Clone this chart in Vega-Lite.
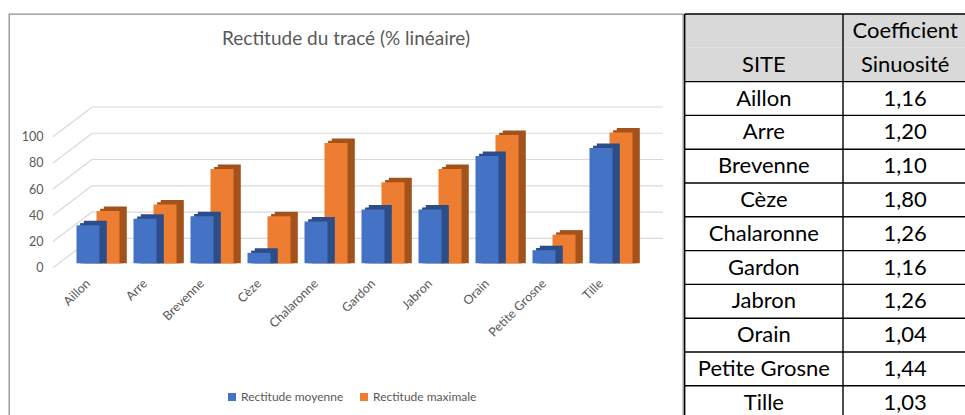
{
  "$schema": "https://vega.github.io/schema/vega-lite/v6.json",
  "autosize": "none",
  "width": 674,
  "height": 402,
  "padding": {"left": 9, "top": 14, "right": 282, "bottom": 0},
  "background": "white",
  "config": {
    "view": {"stroke": "#8c8c8c", "strokeWidth": 1.3},
    "font": "Lato",
    "text": {"font": "Lato"}
  },
  "title": {"text": "Rectitude du tracé (% linéaire)", "frame": "group", "anchor": "middle", "offset": -36, "fontSize": 19, "font": "Lato", "fontWeight": "normal", "color": "#595959"},
  "datasets": {
    "rectitude": [
      {"Site": "Aillon", "Serie": "Rectitude moyenne", "Valeur": 29},
      {"Site": "Arre", "Serie": "Rectitude moyenne", "Valeur": 34},
      {"Site": "Brevenne", "Serie": "Rectitude moyenne", "Valeur": 36},
      {"Site": "Cèze", "Serie": "Rectitude moyenne", "Valeur": 8},
      {"Site": "Chalaronne", "Serie": "Rectitude moyenne", "Valeur": 32},
      {"Site": "Gardon", "Serie": "Rectitude moyenne", "Valeur": 41},
      {"Site": "Jabron", "Serie": "Rectitude moyenne", "Valeur": 41},
      {"Site": "Orain", "Serie": "Rectitude moyenne", "Valeur": 82},
      {"Site": "Petite Grosne", "Serie": "Rectitude moyenne", "Valeur": 10},
      {"Site": "Tille", "Serie": "Rectitude moyenne", "Valeur": 88},
      {"Site": "Aillon", "Serie": "Rectitude maximale", "Valeur": 28},
      {"Site": "Arre", "Serie": "Rectitude maximale", "Valeur": 33},
      {"Site": "Brevenne", "Serie": "Rectitude maximale", "Valeur": 60},
      {"Site": "Cèze", "Serie": "Rectitude maximale", "Valeur": 24},
      {"Site": "Chalaronne", "Serie": "Rectitude maximale", "Valeur": 80},
      {"Site": "Gardon", "Serie": "Rectitude maximale", "Valeur": 50},
      {"Site": "Jabron", "Serie": "Rectitude maximale", "Valeur": 60},
      {"Site": "Orain", "Serie": "Rectitude maximale", "Valeur": 86},
      {"Site": "Petite Grosne", "Serie": "Rectitude maximale", "Valeur": 10},
      {"Site": "Tille", "Serie": "Rectitude maximale", "Valeur": 88}
    ],
    "grille": [{"v": 0}, {"v": 20}, {"v": 40}, {"v": 60}, {"v": 80}, {"v": 100}],
    "tableau": [
      {"Ligne": "h1", "Colonne": "SITE", "Texte": ""},
      {"Ligne": "h1", "Colonne": "Coef", "Texte": "Coefficient"},
      {"Ligne": "h2", "Colonne": "SITE", "Texte": "SITE"},
      {"Ligne": "h2", "Colonne": "Coef", "Texte": "Sinuosité"},
      {"Ligne": "Aillon", "Colonne": "SITE", "Texte": "Aillon"},
      {"Ligne": "Aillon", "Colonne": "Coef", "Texte": "1,16"},
      {"Ligne": "Arre", "Colonne": "SITE", "Texte": "Arre"},
      {"Ligne": "Arre", "Colonne": "Coef", "Texte": "1,20"},
      {"Ligne": "Brevenne", "Colonne": "SITE", "Texte": "Brevenne"},
      {"Ligne": "Brevenne", "Colonne": "Coef", "Texte": "1,10"},
      {"Ligne": "Cèze", "Colonne": "SITE", "Texte": "Cèze"},
      {"Ligne": "Cèze", "Colonne": "Coef", "Texte": "1,80"},
      {"Ligne": "Chalaronne", "Colonne": "SITE", "Texte": "Chalaronne"},
      {"Ligne": "Chalaronne", "Colonne": "Coef", "Texte": "1,26"},
      {"Ligne": "Gardon", "Colonne": "SITE", "Texte": "Gardon"},
      {"Ligne": "Gardon", "Colonne": "Coef", "Texte": "1,16"},
      {"Ligne": "Jabron", "Colonne": "SITE", "Texte": "Jabron"},
      {"Ligne": "Jabron", "Colonne": "Coef", "Texte": "1,26"},
      {"Ligne": "Orain", "Colonne": "SITE", "Texte": "Orain"},
      {"Ligne": "Orain", "Colonne": "Coef", "Texte": "1,04"},
      {"Ligne": "Petite Grosne", "Colonne": "SITE", "Texte": "Petite Grosne"},
      {"Ligne": "Petite Grosne", "Colonne": "Coef", "Texte": "1,44"},
      {"Ligne": "Tille", "Colonne": "SITE", "Texte": "Tille"},
      {"Ligne": "Tille", "Colonne": "Coef", "Texte": "1,03"}
    ]
  },
  "resolve": {
    "scale": {"x": "independent", "y": "independent", "color": "shared"},
    "axis": {"x": "independent", "y": "independent"}
  },
  "layer": [
    {
      "data": {"name": "grille"},
      "mark": {"type": "rule", "color": "#d9d9d9", "strokeWidth": 1.2, "xOffset": 32.5, "x2Offset": 90.5},
      "encoding": {
        "y": {"field": "v", "type": "quantitative", "axis": null, "scale": {"domain": [0, 100], "range": [224.3, 93], "nice": false}},
        "x": {"datum": "Aillon", "type": "nominal", "bandPosition": 0, "axis": null, "scale": {"type": "band", "domain": ["Aillon", "Arre", "Brevenne", "Cèze", "Chalaronne", "Gardon", "Jabron", "Orain", "Petite Grosne", "Tille"], "range": [50.5, 620.5], "paddingInner": 0, "paddingOuter": 0}},
        "x2": {"datum": "Tille", "bandPosition": 0}
      }
    },
    {
      "data": {"name": "grille"},
      "mark": {"type": "rule", "color": "#d9d9d9", "strokeWidth": 1.2, "xOffset": -6.5, "x2Offset": 32.5, "y2Offset": -29.5},
      "encoding": {
        "y": {"field": "v", "type": "quantitative", "scale": {"domain": [0, 100], "range": [253.7, 122.7], "nice": false},
          "axis": {"orient": "left", "offset": -36, "values": [0, 20, 40, 60, 80, 100], "labelPadding": 2, "ticks": false, "tickSize": 0, "domain": false, "grid": false, "title": null, "labelColor": "#595959", "labelFontSize": 12.5, "labelFont": "Lato"}},
        "y2": {"field": "v"},
        "x": {"datum": "Aillon", "type": "nominal", "bandPosition": 0, "axis": null, "scale": {"type": "band", "domain": ["Aillon", "Arre", "Brevenne", "Cèze", "Chalaronne", "Gardon", "Jabron", "Orain", "Petite Grosne", "Tille"], "range": [50.5, 620.5], "paddingInner": 0, "paddingOuter": 0}},
        "x2": {"datum": "Aillon", "bandPosition": 0}
      }
    },
    {
      "data": {"name": "rectitude"},
      "transform": [{"filter": "datum.Serie === 'Rectitude maximale'"}],
      "mark": {"type": "bar", "width": 23, "color": "#a3521c", "xOffset": 23.6, "yOffset": -17.8, "y2Offset": -17.8},
      "encoding": {
        "x": {"field": "Site", "type": "nominal", "axis": null, "scale": {"type": "band", "domain": ["Aillon", "Arre", "Brevenne", "Cèze", "Chalaronne", "Gardon", "Jabron", "Orain", "Petite Grosne", "Tille"], "range": [50.5, 620.5], "paddingInner": 0, "paddingOuter": 0}},
        "y": {"field": "Valeur", "type": "quantitative", "stack": null, "axis": null, "scale": {"domain": [0, 100], "range": [249.3, 118.3], "nice": false}}
      }
    },
    {
      "data": {"name": "rectitude"},
      "transform": [{"filter": "datum.Serie === 'Rectitude maximale'"}],
      "mark": {"type": "bar", "width": 23, "color": "#a3521c", "xOffset": 27.3, "yOffset": -20.1, "y2Offset": -20.1},
      "encoding": {
        "x": {"field": "Site", "type": "nominal", "axis": null, "scale": {"type": "band", "domain": ["Aillon", "Arre", "Brevenne", "Cèze", "Chalaronne", "Gardon", "Jabron", "Orain", "Petite Grosne", "Tille"], "range": [50.5, 620.5], "paddingInner": 0, "paddingOuter": 0}},
        "y": {"field": "Valeur", "type": "quantitative", "stack": null, "axis": null, "scale": {"domain": [0, 100], "range": [249.3, 118.3], "nice": false}}
      }
    },
    {
      "data": {"name": "rectitude"},
      "transform": [{"filter": "datum.Serie === 'Rectitude maximale'"}],
      "mark": {"type": "bar", "width": 23, "xOffset": 20, "yOffset": -15.6, "y2Offset": -15.6},
      "encoding": {
        "x": {"field": "Site", "type": "nominal", "axis": null, "scale": {"type": "band", "domain": ["Aillon", "Arre", "Brevenne", "Cèze", "Chalaronne", "Gardon", "Jabron", "Orain", "Petite Grosne", "Tille"], "range": [50.5, 620.5], "paddingInner": 0, "paddingOuter": 0}},
        "y": {"field": "Valeur", "type": "quantitative", "stack": null, "axis": null, "scale": {"domain": [0, 100], "range": [249.3, 118.3], "nice": false}},
        "color": {"field": "Serie", "type": "nominal", "scale": {"domain": ["Rectitude moyenne", "Rectitude maximale"], "range": ["#4472C4", "#ED7D31"]},
          "legend": {"orient": "none", "legendX": 217, "legendY": 377, "direction": "horizontal", "title": null, "symbolType": "square", "symbolSize": 64, "symbolStrokeWidth": 0, "labelFontSize": 12, "labelColor": "#595959", "labelFont": "Lato", "columnPadding": 14, "labelOffset": 3, "padding": 0}}
      }
    },
    {
      "data": {"name": "rectitude"},
      "transform": [{"filter": "datum.Serie === 'Rectitude moyenne'"}],
      "mark": {"type": "bar", "width": 23, "color": "#2c4d88", "xOffset": 3.6, "yOffset": -2.2, "y2Offset": -2.2},
      "encoding": {
        "x": {"field": "Site", "type": "nominal", "axis": null, "scale": {"type": "band", "domain": ["Aillon", "Arre", "Brevenne", "Cèze", "Chalaronne", "Gardon", "Jabron", "Orain", "Petite Grosne", "Tille"], "range": [50.5, 620.5], "paddingInner": 0, "paddingOuter": 0}},
        "y": {"field": "Valeur", "type": "quantitative", "stack": null, "axis": null, "scale": {"domain": [0, 100], "range": [249.3, 118.3], "nice": false}}
      }
    },
    {
      "data": {"name": "rectitude"},
      "transform": [{"filter": "datum.Serie === 'Rectitude moyenne'"}],
      "mark": {"type": "bar", "width": 23, "color": "#2c4d88", "xOffset": 7.3, "yOffset": -4.5, "y2Offset": -4.5},
      "encoding": {
        "x": {"field": "Site", "type": "nominal", "axis": null, "scale": {"type": "band", "domain": ["Aillon", "Arre", "Brevenne", "Cèze", "Chalaronne", "Gardon", "Jabron", "Orain", "Petite Grosne", "Tille"], "range": [50.5, 620.5], "paddingInner": 0, "paddingOuter": 0}},
        "y": {"field": "Valeur", "type": "quantitative", "stack": null, "axis": null, "scale": {"domain": [0, 100], "range": [249.3, 118.3], "nice": false}}
      }
    },
    {
      "data": {"name": "rectitude"},
      "transform": [{"filter": "datum.Serie === 'Rectitude moyenne'"}],
      "mark": {"type": "bar", "width": 23},
      "encoding": {
        "x": {"field": "Site", "type": "nominal", "scale": {"type": "band", "domain": ["Aillon", "Arre", "Brevenne", "Cèze", "Chalaronne", "Gardon", "Jabron", "Orain", "Petite Grosne", "Tille"], "range": [50.5, 620.5], "paddingInner": 0, "paddingOuter": 0},
          "axis": {"orient": "bottom", "offset": -137, "labelAngle": -45, "labelAlign": "right", "labelBaseline": "middle", "labelPadding": 2, "ticks": false, "tickSize": 0, "domain": false, "grid": false, "title": null, "labelColor": "#595959", "labelFontSize": 12.5, "labelFont": "Lato"}},
        "y": {"field": "Valeur", "type": "quantitative", "stack": null, "axis": null, "scale": {"domain": [0, 100], "range": [249.3, 118.3], "nice": false}},
        "color": {"field": "Serie", "type": "nominal", "scale": {"domain": ["Rectitude moyenne", "Rectitude maximale"], "range": ["#4472C4", "#ED7D31"]},
          "legend": {"orient": "none", "legendX": 217, "legendY": 377, "direction": "horizontal", "title": null, "symbolType": "square", "symbolSize": 64, "symbolStrokeWidth": 0, "labelFontSize": 12, "labelColor": "#595959", "labelFont": "Lato", "columnPadding": 14, "labelOffset": 3, "padding": 0}}
      }
    },
    {
      "data": {"name": "tableau"},
      "transform": [{"filter": "datum.Ligne === 'h1' || datum.Ligne === 'h2'"}],
      "mark": {"type": "rect", "color": "#d9d9d9"},
      "encoding": {
        "x": {"field": "Colonne", "type": "nominal", "axis": null, "scale": {"type": "band", "domain": ["SITE", "Coef"], "range": [675.7, 992.3], "paddingInner": 0, "paddingOuter": 0}},
        "y": {"field": "Ligne", "type": "nominal", "axis": null, "scale": {"type": "band", "domain": ["h1", "h2", "Aillon", "Arre", "Brevenne", "Cèze", "Chalaronne", "Gardon", "Jabron", "Orain", "Petite Grosne", "Tille"], "range": [0, 405.6], "paddingInner": 0, "paddingOuter": 0}}
      }
    },
    {
      "data": {"name": "tableau"},
      "transform": [{"filter": "datum.Colonne === 'SITE' && datum.Ligne !== 'h2'"}],
      "mark": {"type": "rule", "color": "#000000", "strokeWidth": 1.4},
      "encoding": {
        "y": {"field": "Ligne", "type": "nominal", "bandPosition": 0, "axis": null, "scale": {"type": "band", "domain": ["h1", "h2", "Aillon", "Arre", "Brevenne", "Cèze", "Chalaronne", "Gardon", "Jabron", "Orain", "Petite Grosne", "Tille"], "range": [0, 405.6], "paddingInner": 0, "paddingOuter": 0}},
        "x": {"datum": "SITE", "type": "nominal", "bandPosition": 0, "axis": null, "scale": {"type": "band", "domain": ["SITE", "Coef"], "range": [675.7, 992.3], "paddingInner": 0, "paddingOuter": 0}},
        "x2": {"datum": "Coef", "bandPosition": 1}
      }
    },
    {
      "data": {"name": "tableau"},
      "transform": [{"filter": "datum.Ligne === 'h1'"}],
      "mark": {"type": "rule", "color": "#000000", "strokeWidth": 1.4},
      "encoding": {
        "x": {"field": "Colonne", "type": "nominal", "bandPosition": 0, "axis": null, "scale": {"type": "band", "domain": ["SITE", "Coef"], "range": [675.7, 992.3], "paddingInner": 0, "paddingOuter": 0}},
        "y": {"datum": "h1", "type": "nominal", "bandPosition": 0, "axis": null, "scale": {"type": "band", "domain": ["h1", "h2", "Aillon", "Arre", "Brevenne", "Cèze", "Chalaronne", "Gardon", "Jabron", "Orain", "Petite Grosne", "Tille"], "range": [0, 405.6], "paddingInner": 0, "paddingOuter": 0}},
        "y2": {"datum": "Tille", "bandPosition": 1}
      }
    },
    {
      "data": {"name": "tableau"},
      "transform": [{"filter": "datum.Colonne === 'SITE'"}],
      "mark": {"type": "text", "fontSize": 22, "font": "Lato", "color": "#000000"},
      "encoding": {
        "text": {"field": "Texte"},
        "x": {"field": "Colonne", "type": "nominal", "axis": null, "scale": {"type": "band", "domain": ["SITE", "Coef"], "range": [675.7, 992.3], "paddingInner": 0, "paddingOuter": 0}},
        "y": {"field": "Ligne", "type": "nominal", "axis": null, "scale": {"type": "band", "domain": ["h1", "h2", "Aillon", "Arre", "Brevenne", "Cèze", "Chalaronne", "Gardon", "Jabron", "Orain", "Petite Grosne", "Tille"], "range": [0, 405.6], "paddingInner": 0, "paddingOuter": 0}}
      }
    },
    {
      "data": {"name": "tableau"},
      "transform": [{"filter": "datum.Colonne === 'Coef'"}],
      "mark": {"type": "text", "fontSize": 22, "font": "Lato", "color": "#000000", "dx": -17},
      "encoding": {
        "text": {"field": "Texte"},
        "x": {"field": "Colonne", "type": "nominal", "axis": null, "scale": {"type": "band", "domain": ["SITE", "Coef"], "range": [675.7, 992.3], "paddingInner": 0, "paddingOuter": 0}},
        "y": {"field": "Ligne", "type": "nominal", "axis": null, "scale": {"type": "band", "domain": ["h1", "h2", "Aillon", "Arre", "Brevenne", "Cèze", "Chalaronne", "Gardon", "Jabron", "Orain", "Petite Grosne", "Tille"], "range": [0, 405.6], "paddingInner": 0, "paddingOuter": 0}}
      }
    }
  ]
}
